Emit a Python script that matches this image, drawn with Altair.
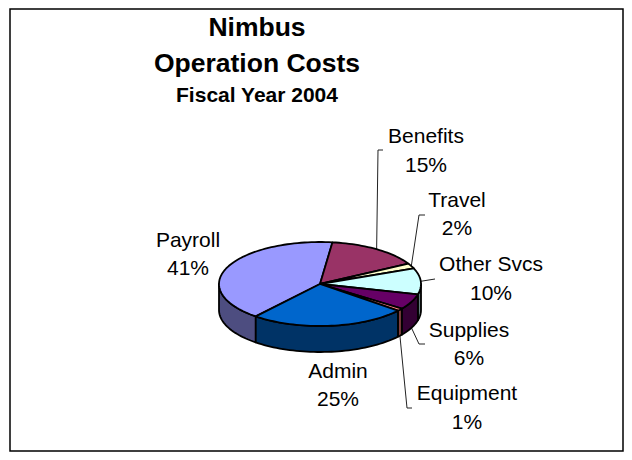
import math
import altair as alt

names = ["Payroll", "Benefits", "Travel", "Other Svcs", "Supplies", "Equipment", "Admin"]
shares = [41, 15, 2, 10, 6, 1, 25]
top_colors = ["#9999FF", "#993366", "#FFFFCC", "#CCFFFF", "#660066", "#FF8080", "#0066CC"]
side_colors = ["#4D4D80", "#4D1A33", "#808066", "#668080", "#330033", "#804040", "#003366"]
start_angle = 219.5

label_x = [188, 426, 457, 491, 469, 467, 338]
label_y1 = [241, 137, 201, 265, 331, 394, 372]
label_y2 = [269, 166, 229, 294, 359, 423, 400]
leader_names = ["Benefits", "Travel", "Other Svcs", "Supplies", "Equipment"]
leader_elbow_x = [378, 419, 435, 419, 407]
leader_elbow_y = [150, 215, 279, 344, 408]
leader_end_x = [383, 425, 435, 425, 412]
leader_end_y = [150, 215, 279, 344, 408]

title_lines = ["Nimbus", "Operation Costs", "Fiscal Year 2004"]
title_sizes = [26.5, 26.5, 21]
title_x = [257, 257, 257]
title_y = [28, 64, 96]

cx, cy, rx, ry, depth = 320, 284, 101, 42, 26
W, H = 616, 444


def pt(t, drop=0):
    r = math.radians(t)
    return [cx + rx * math.sin(r), cy - ry * math.cos(r) + drop]


def arc(a, b, drop=0):
    n = max(2, int(abs(b - a) / 2) + 2)
    return [pt(a + (b - a) * i / (n - 1), drop) for i in range(n)]


def feature(ring, fill):
    return {"type": "Feature", "properties": {"fill": fill},
            "geometry": {"type": "Polygon", "coordinates": [ring + [ring[0]]]}}


spans = []
a = start_angle
for s in shares:
    spans.append((a, a + s * 3.6))
    a += s * 3.6

sides, tops, mids = [], [], {}
for name, (a, b), tc, sc in zip(names, spans, top_colors, side_colors):
    mids[name] = (a + b) / 2
    tops.append(feature([[cx, cy]] + arc(a, b), tc))
    # outer wall is visible only on the near half of the ellipse
    for lo, hi in ((90, 270), (450, 630)):
        l, h = max(a, lo), min(b, hi)
        if l < h:
            sides.append(feature(arc(l, h) + arc(h, l, depth), sc))

leaders = []
for n, ex, ey, fx, fy in zip(leader_names, leader_elbow_x, leader_elbow_y, leader_end_x, leader_end_y):
    m = mids[n]
    near = 90 < (m % 360) < 270
    x0, y0 = pt(m, depth if near else 0)
    for i, (x, y) in enumerate([(x0, y0), (ex, ey), (fx, fy)]):
        leaders.append({"name": n, "i": i, "x": x, "y": y})

labels = []
for n, s, x, y1, y2 in zip(names, shares, label_x, label_y1, label_y2):
    labels.append({"t": n, "x": x, "y": y1})
    labels.append({"t": f"{s}%", "x": x, "y": y2})

titles = [{"t": t, "x": x, "y": y, "s": z} for t, x, y, z in zip(title_lines, title_x, title_y, title_sizes)]

sx = alt.Scale(domain=[8, 8 + W], range=[0, W])
sy = alt.Scale(domain=[8, 8 + H], range=[0, H])
X = alt.X("x:Q", scale=sx, axis=None)
Y = alt.Y("y:Q", scale=sy, axis=None)

frame = alt.Chart(alt.Data(values=[{"x": 10, "x2": 623, "y": 9, "y2": 451}])).mark_rect(
    fill="white", stroke="black", strokeWidth=1.5
).encode(x=X, x2="x2:Q", y=Y, y2="y2:Q")

shape = lambda feats: alt.Chart(alt.Data(values=feats)).mark_geoshape(
    stroke="black", strokeWidth=1.8, strokeJoin="round"
).encode(fill=alt.Fill("properties.fill:N", scale=None)).project(
    type="identity", scale=1, translate=[-8, -8]
)

leader = alt.Chart(alt.Data(values=leaders)).mark_line(color="#222222", strokeWidth=1).encode(
    x=X, y=Y, detail="name:N", order="i:Q"
)

label = alt.Chart(alt.Data(values=labels)).mark_text(
    font="Liberation Sans", fontSize=21, color="black", baseline="middle", align="center"
).encode(x=X, y=Y, text="t:N")

title = alt.Chart(alt.Data(values=titles)).mark_text(
    font="Liberation Sans", fontWeight="bold", color="black", baseline="middle", align="center"
).encode(x=X, y=Y, text="t:N", size=alt.Size("s:Q", scale=None, legend=None))

chart = alt.layer(frame, leader, shape(sides), shape(tops), label, title).properties(
    width=W, height=H, padding=0, autosize=alt.AutoSizeParams(type="none")
).configure_view(stroke=None)

chart.save("out.html", embed_options={"renderer": "svg", "actions": False})
